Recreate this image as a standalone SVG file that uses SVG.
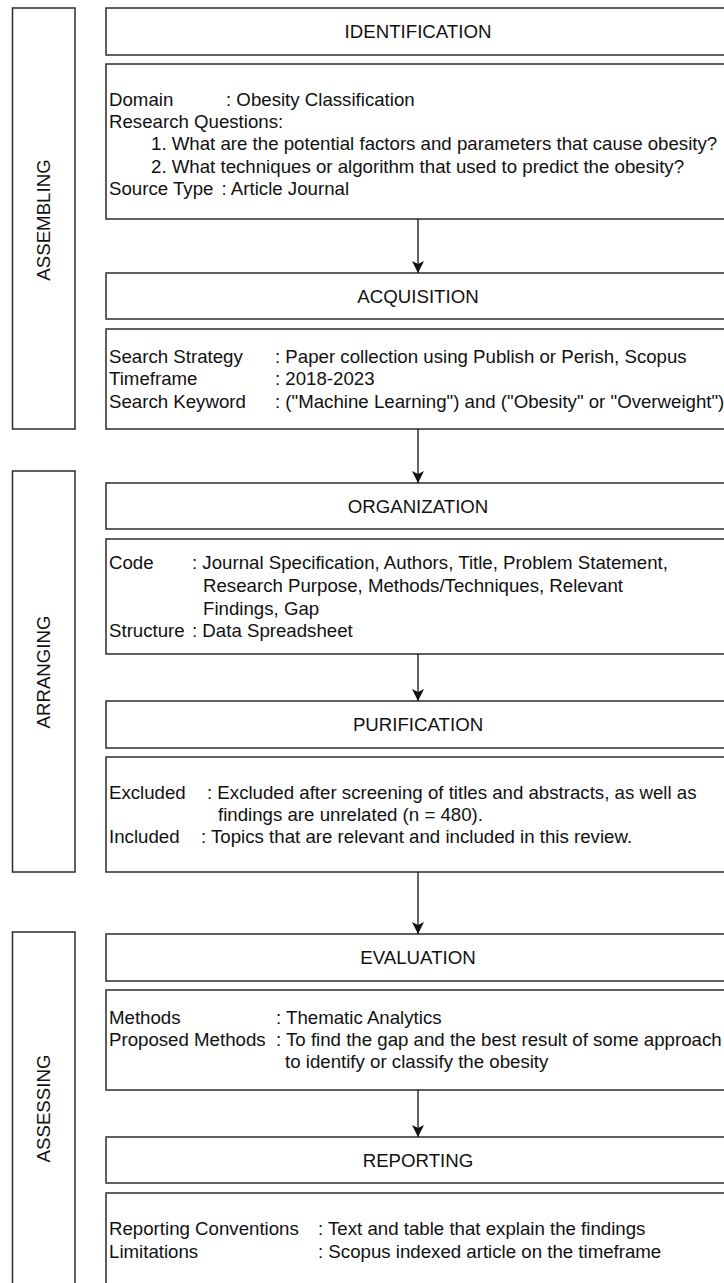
<svg xmlns="http://www.w3.org/2000/svg" width="724" height="1283" viewBox="0 0 724 1283">
<style>
.box{fill:#fff;stroke:#2b2b2b;stroke-width:1.5}
.t{font-family:"Liberation Sans",Arial,Helvetica,sans-serif;font-size:18.67px;fill:#111}
.h{text-anchor:middle}
.edge{stroke:#111;stroke-width:1.3;fill:none}
</style>
<defs>
<marker id="arr" viewBox="0 0 12 12" refX="12" refY="6" markerWidth="12" markerHeight="12" markerUnits="userSpaceOnUse" orient="auto">
<path d="M0,0 L12,6 L0,12 L3,6 Z" fill="#111"/>
</marker>
</defs>
<rect width="724" height="1283" fill="#fff"/>

<g id="phase-assembling">
<rect class="box" x="12.5" y="8" width="62.5" height="421"/>
<text class="t h" transform="translate(50,220) rotate(-90)">ASSEMBLING</text>
</g>
<g id="phase-arranging">
<rect class="box" x="12.5" y="471" width="62.5" height="401"/>
<text class="t h" transform="translate(50,672) rotate(-90)">ARRANGING</text>
</g>
<g id="phase-assessing">
<rect class="box" x="12.5" y="932" width="62.5" height="370"/>
<text class="t h" transform="translate(50,1108.5) rotate(-90)">ASSESSING</text>
</g>

<g id="identification-header">
<rect class="box" x="106" y="8" width="626" height="47"/>
<text class="t h" x="418" y="38.2">IDENTIFICATION</text>
</g>
<g id="identification-body">
<rect class="box" x="106" y="64" width="626" height="155"/>
<text class="t" x="109" y="105.5">Domain</text>
<text class="t" x="226" y="105.5">: Obesity Classification</text>
<text class="t" x="109" y="127.5">Research Questions:</text>
<text class="t" x="151" y="150">1. What are the potential factors and parameters that cause obesity?</text>
<text class="t" x="151" y="172.5">2. What techniques or algorithm that used to predict the obesity?</text>
<text class="t" x="109" y="194.5">Source Type</text>
<text class="t" x="221.5" y="194.5">: Article Journal</text>
</g>

<g id="acquisition-header">
<rect class="box" x="106" y="273" width="626" height="46"/>
<text class="t h" x="418" y="302.7">ACQUISITION</text>
</g>
<g id="acquisition-body">
<rect class="box" x="106" y="329" width="626" height="100"/>
<text class="t" x="109" y="363">Search Strategy</text>
<text class="t" x="275" y="363">: Paper collection using Publish or Perish, Scopus</text>
<text class="t" x="109" y="385">Timeframe</text>
<text class="t" x="275" y="385">: 2018-2023</text>
<text class="t" x="109" y="407.5">Search Keyword</text>
<text class="t" x="275" y="407.5">: ("Machine Learning") and ("Obesity" or "Overweight")</text>
</g>

<g id="organization-header">
<rect class="box" x="106" y="483" width="626" height="46"/>
<text class="t h" x="418" y="512.7">ORGANIZATION</text>
</g>
<g id="organization-body">
<rect class="box" x="106" y="539" width="626" height="115"/>
<text class="t" x="109" y="569">Code</text>
<text class="t" x="192" y="569">: Journal Specification, Authors, Title, Problem Statement,</text>
<text class="t" x="203" y="592">Research Purpose, Methods/Techniques, Relevant</text>
<text class="t" x="203" y="614.5">Findings, Gap</text>
<text class="t" x="109" y="637">Structure</text>
<text class="t" x="192" y="637">: Data Spreadsheet</text>
</g>

<g id="purification-header">
<rect class="box" x="106" y="701" width="626" height="47"/>
<text class="t h" x="418" y="731.2">PURIFICATION</text>
</g>
<g id="purification-body">
<rect class="box" x="106" y="757" width="626" height="115"/>
<text class="t" x="109" y="798.5">Excluded</text>
<text class="t" x="207" y="798.5">: Excluded after screening of titles and abstracts, as well as</text>
<text class="t" x="218" y="820.5">findings are unrelated (n = 480).</text>
<text class="t" x="109" y="843">Included</text>
<text class="t" x="201" y="843">: Topics that are relevant and included in this review.</text>
</g>

<g id="evaluation-header">
<rect class="box" x="106" y="934" width="626" height="47"/>
<text class="t h" x="418" y="964.2">EVALUATION</text>
</g>
<g id="evaluation-body">
<rect class="box" x="106" y="990" width="626" height="100"/>
<text class="t" x="109" y="1023.5">Methods</text>
<text class="t" x="276" y="1023.5">: Thematic Analytics</text>
<text class="t" x="109" y="1045.5">Proposed Methods</text>
<text class="t" x="276" y="1045.5">: To find the gap and the best result of some approach</text>
<text class="t" x="285" y="1068">to identify or classify the obesity</text>
</g>

<g id="reporting-header">
<rect class="box" x="106" y="1137" width="626" height="46"/>
<text class="t h" x="418" y="1166.7">REPORTING</text>
</g>
<g id="reporting-body">
<rect class="box" x="106" y="1193" width="626" height="110"/>
<text class="t" x="109" y="1235">Reporting Conventions</text>
<text class="t" x="318" y="1235">: Text and table that explain the findings</text>
<text class="t" x="109" y="1258">Limitations</text>
<text class="t" x="318" y="1258">: Scopus indexed article on the timeframe</text>
</g>

<g id="connectors">
<line class="edge" x1="418" y1="219" x2="418" y2="273" marker-end="url(#arr)"/>
<line class="edge" x1="418" y1="429" x2="418" y2="483" marker-end="url(#arr)"/>
<line class="edge" x1="418" y1="654" x2="418" y2="701" marker-end="url(#arr)"/>
<line class="edge" x1="418" y1="872" x2="418" y2="934" marker-end="url(#arr)"/>
<line class="edge" x1="418" y1="1090" x2="418" y2="1137" marker-end="url(#arr)"/>
</g>
</svg>
